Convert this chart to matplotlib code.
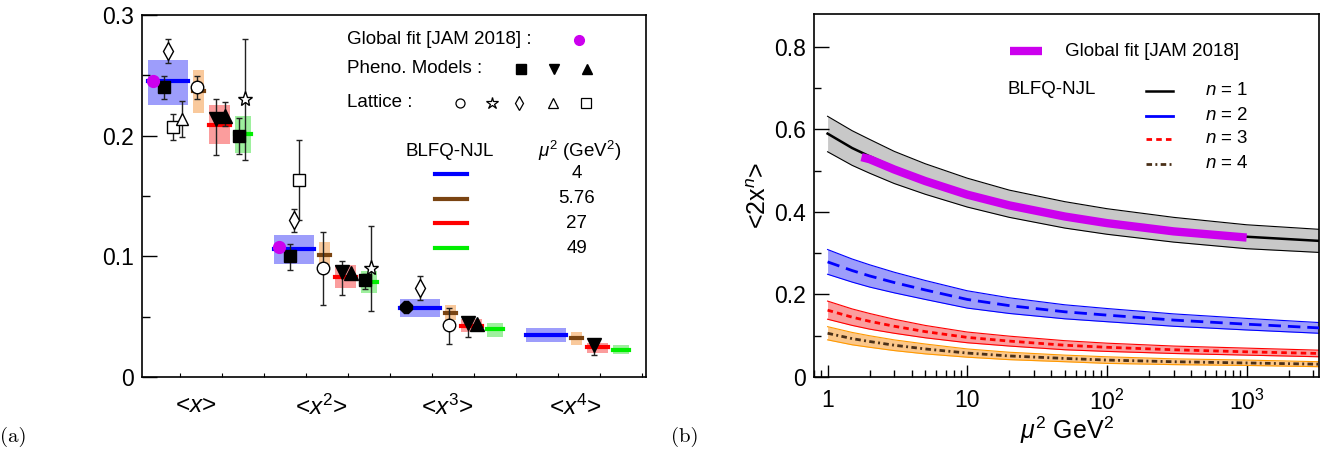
import matplotlib
matplotlib.use('Agg')
import matplotlib.pyplot as plt
import numpy as np

plt.rcParams['font.family'] = ['Liberation Sans', 'DejaVu Sans']
plt.rcParams['mathtext.fontset'] = 'custom'
plt.rcParams['mathtext.rm'] = 'Liberation Sans'
plt.rcParams['mathtext.it'] = 'Liberation Sans:italic'

# ---------------- (a) moments at fixed scales ----------------
moments = ['<$x$>', '<$x^{2}$>', '<$x^{3}$>', '<$x^{4}$>']
blfq_scales = ['4', '5.76', '27', '49']

# BLFQ-NJL central values and bands, rows = moments, cols = scales
blfq_mid = [[0.245, 0.237, 0.209, 0.201],
            [0.106, 0.101, 0.083, 0.079],
            [0.057, 0.053, 0.042, 0.040],
            [0.035, 0.032, 0.025, 0.0225]]
blfq_lo = [[0.225, 0.219, 0.193, 0.186],
           [0.094, 0.092, 0.074, 0.070],
           [0.050, 0.047, 0.037, 0.033],
           [0.029, 0.0265, 0.020, 0.019]]
blfq_hi = [[0.263, 0.254, 0.225, 0.216],
           [0.118, 0.112, 0.093, 0.088],
           [0.065, 0.060, 0.048, 0.045],
           [0.0405, 0.037, 0.028, 0.0265]]

# global fit (JAM 2018)
jam_val = [0.245, 0.108]

# phenomenological models: value, err down, err up (None = not shown)
pheno_sq1 = [(0.240, 0.0095, 0.0095), (0.100, 0.011, 0.010), None, None]
pheno_oct = [None, None, (0.058, 0.0, 0.0), None]
pheno_tdn = [(0.214, 0.030, 0.016), (0.087, 0.019, 0.009), (0.045, 0.012, 0.005), (0.0265, 0.0085, 0.0035)]
pheno_tup = [(0.216, 0.008, 0.012), (0.086, 0.0, 0.0), (0.044, 0.0, 0.0), None]
pheno_sq2 = [(0.200, 0.015, 0.015), (0.080, 0.007, 0.005), None, None]

# lattice results
latt_circ = [(0.240, 0.0095, 0.0095), (0.090, 0.030, 0.030), (0.043, 0.016, 0.014), None]
latt_star = [(0.230, 0.050, 0.050), (0.090, 0.035, 0.035), None, None]
latt_diam = [(0.270, 0.010, 0.010), (0.130, 0.010, 0.009), (0.074, 0.010, 0.010), None]
latt_tri = [(0.214, 0.015, 0.015), None, None, None]
latt_sq = [(0.207, 0.011, 0.011), (0.163, 0.033, 0.033), None, None]

# ---------------- (b) scale evolution ----------------
mu2 = [1, 1.5, 2, 3, 5, 10, 20, 50, 100, 300, 1000, 3300]
n1_mid = [0.590, 0.555, 0.535, 0.508, 0.480, 0.447, 0.420, 0.393, 0.377, 0.357, 0.340, 0.330]
n1_hi = [0.632, 0.597, 0.576, 0.547, 0.517, 0.482, 0.453, 0.425, 0.408, 0.387, 0.369, 0.358]
n1_lo = [0.546, 0.513, 0.494, 0.469, 0.443, 0.412, 0.387, 0.361, 0.346, 0.327, 0.311, 0.302]
n2_mid = [0.279, 0.258, 0.245, 0.229, 0.211, 0.188, 0.173, 0.158, 0.150, 0.138, 0.128, 0.119]
n2_hi = [0.309, 0.286, 0.272, 0.254, 0.234, 0.209, 0.192, 0.175, 0.166, 0.153, 0.142, 0.132]
n2_lo = [0.249, 0.230, 0.218, 0.204, 0.188, 0.167, 0.154, 0.141, 0.134, 0.123, 0.114, 0.106]
n3_mid = [0.162, 0.145, 0.135, 0.123, 0.110, 0.096, 0.087, 0.077, 0.072, 0.066, 0.061, 0.057]
n3_hi = [0.184, 0.165, 0.154, 0.140, 0.125, 0.109, 0.099, 0.088, 0.082, 0.075, 0.070, 0.065]
n3_lo = [0.140, 0.125, 0.116, 0.106, 0.095, 0.083, 0.075, 0.066, 0.062, 0.057, 0.053, 0.049]
n4_mid = [0.106, 0.093, 0.086, 0.077, 0.068, 0.058, 0.051, 0.045, 0.041, 0.037, 0.034, 0.031]
n4_hi = [0.122, 0.108, 0.100, 0.090, 0.080, 0.068, 0.060, 0.053, 0.049, 0.044, 0.041, 0.037]
n4_lo = [0.090, 0.078, 0.072, 0.064, 0.056, 0.048, 0.042, 0.037, 0.033, 0.030, 0.028, 0.025]

jam_mu2 = [1.75, 2, 3, 5, 10, 20, 50, 100, 300, 1000]
jam_2x = [0.533, 0.528, 0.503, 0.475, 0.442, 0.416, 0.389, 0.373, 0.353, 0.338]

fig = plt.figure(figsize=(13.23, 4.51), dpi=100)
axa = fig.add_axes([0.1073, 0.1641, 0.381, 0.8027])
axb = fig.add_axes([0.6153, 0.1641, 0.3817, 0.8049])

# box layout inside each moment group: (left, right)
box_span = [(0.048, 0.365), (0.405, 0.492), (0.532, 0.698), (0.738, 0.865)]
box_fill = ['#9d9dfb', '#f9c99c', '#fb9d9d', '#9ef09e']
box_line = ['#0000ff', '#7a4412', '#ff0000', '#00ee00']

for i in range(4):
    for j in range(4):
        x0, x1 = box_span[j]
        axa.fill_between([i + x0, i + x1], blfq_lo[i][j], blfq_hi[i][j],
                         color=box_fill[j], lw=0, zorder=1)
        axa.plot([i + x0, i + x1], [blfq_mid[i][j]] * 2, color=box_line[j], lw=3, zorder=2)


def draw_points(vals, offset, marker, filled, size):
    for i, v in enumerate(vals):
        if v is None:
            continue
        y, dlo, dhi = v
        if dlo > 0 or dhi > 0:
            axa.errorbar(i + offset, y, yerr=[[dlo], [dhi]], fmt='none', ecolor='#222222',
                         elinewidth=1, capsize=2.5, capthick=1, zorder=3)
        axa.plot(i + offset, y, marker=marker, ms=size, mec='black', mew=1,
                 mfc='black' if filled else 'white', ls='none', zorder=4)


draw_points(latt_diam, 0.21, 'd', False, 9)
draw_points(latt_sq, 0.245, 's', False, 8.5)
draw_points(latt_tri, 0.32, '^', False, 9)
draw_points(pheno_sq1, 0.175, 's', True, 8)
draw_points(pheno_oct, 0.095, '8', True, 9)
draw_points(latt_circ, 0.44, 'o', False, 9)
draw_points(pheno_tdn, 0.59, 'v', True, 9.5)
draw_points(pheno_tup, 0.66, '^', True, 9.5)
draw_points(pheno_sq2, 0.77, 's', True, 8)
draw_points(latt_star, 0.82, '*', False, 11)

for i, v in enumerate(jam_val):
    axa.plot(i + 0.085, v, 'o', color='#cc00ee', ms=8.5, zorder=5)

axa.set_xlim(0, 4)
axa.set_ylim(0, 0.3)
axa.set_yticks([0, 0.1, 0.2, 0.3])
axa.set_yticklabels(['0', '0.1', '0.2', '0.3'])
axa.set_yticks(np.arange(0.05, 0.3, 0.1), minor=True)
axa.set_xticks([0.43, 1.42, 2.42, 3.44])
axa.set_xticklabels(moments, fontsize=17.5)
axa.set_xticks(np.arange(0.30, 4.0, 1 / 3), minor=True)
axa.tick_params(axis='y', which='major', direction='in', length=11, width=1, labelsize=16.5, pad=6)
axa.tick_params(axis='y', which='minor', direction='in', length=5.5, width=1)
axa.tick_params(axis='x', which='major', length=0, pad=13)
axa.tick_params(axis='x', which='minor', direction='in', length=3, width=0.8)
for s in axa.spines.values():
    s.set_linewidth(1.2)

# legend of panel (a)
ta = axa.transAxes
fs = 13.5
axa.text(0.407, 0.931, 'Global fit [JAM 2018] :', transform=ta, fontsize=fs, va='center')
axa.plot(0.867, 0.931, 'o', color='#cc00ee', ms=7, transform=ta, clip_on=False)
axa.text(0.407, 0.851, 'Pheno. Models :', transform=ta, fontsize=fs, va='center')
for xm, mk in zip([0.752, 0.817, 0.883], ['s', 'v', '^']):
    axa.plot(xm, 0.851, mk, color='black', ms=7, transform=ta)
axa.text(0.407, 0.757, 'Lattice :', transform=ta, fontsize=fs, va='center')
for xm, mk, sz in zip([0.631, 0.694, 0.748, 0.815, 0.881], ['o', '*', 'd', '^', 's'],
                      [6.5, 9, 7, 7, 6.5]):
    axa.plot(xm, 0.757, mk, mfc='white', mec='black', mew=0.9, ms=sz, transform=ta)
axa.text(0.522, 0.624, 'BLFQ-NJL', transform=ta, fontsize=fs, va='center')
axa.text(0.786, 0.624, r'$\mu^{2}$ (GeV$^{2}$)', transform=ta, fontsize=fs, va='center')
for k, (yl, lab) in enumerate(zip([0.561, 0.492, 0.425, 0.356], blfq_scales)):
    axa.plot([0.581, 0.645], [yl, yl], color=box_line[k], lw=3, transform=ta)
    axa.text(0.863, yl, lab, transform=ta, fontsize=fs, va='center', ha='center')

# ---------------- panel (b) ----------------
axb.fill_between(mu2, n1_lo, n1_hi, color='#c8c8c8', lw=0, zorder=1)
axb.plot(mu2, n1_hi, color='black', lw=0.8, zorder=2)
axb.plot(mu2, n1_lo, color='black', lw=0.8, zorder=2)
axb.fill_between(mu2, n2_lo, n2_hi, color='#9d9dfb', lw=0, zorder=1)
axb.plot(mu2, n2_hi, color='#0000ff', lw=0.8, zorder=2)
axb.plot(mu2, n2_lo, color='#0000ff', lw=0.8, zorder=2)
axb.fill_between(mu2, n3_lo, n3_hi, color='#fb9d9d', lw=0, zorder=1)
axb.plot(mu2, n3_hi, color='#ff0000', lw=0.8, zorder=2)
axb.plot(mu2, n3_lo, color='#ff0000', lw=0.8, zorder=2)
axb.fill_between(mu2, n4_lo, n4_hi, color='#fbc78a', lw=0, zorder=1)
axb.plot(mu2, n4_hi, color='#ff9900', lw=0.8, zorder=2)
axb.plot(mu2, n4_lo, color='#ff9900', lw=0.8, zorder=2)

n1_style = dict(color='black', lw=1.8, ls='-')
n2_style = dict(color='#0000ff', lw=2, ls=(0, (4.5, 2.5)))
n3_style = dict(color='#ff0000', lw=2, ls=(0, (2, 1.5)))
n4_style = dict(color='#4a3018', lw=2, ls=(0, (2, 1.2, 0.7, 1.2)))
axb.plot(mu2, n1_mid, zorder=3, **n1_style)
axb.plot(mu2, n2_mid, zorder=3, **n2_style)
axb.plot(mu2, n3_mid, zorder=3, **n3_style)
axb.plot(mu2, n4_mid, zorder=3, **n4_style)
axb.plot(jam_mu2, jam_2x, color='#cc00ee', lw=6, solid_capstyle='butt', zorder=4)

axb.set_xscale('log')
axb.set_xlim(0.8, 3300)
axb.set_ylim(0, 0.88)
axb.set_xticks([1, 10, 100, 1000])
axb.set_xticklabels(['1', '10', '$10^{2}$', '$10^{3}$'])
axb.set_yticks([0, 0.2, 0.4, 0.6, 0.8])
axb.set_yticklabels(['0', '0.2', '0.4', '0.6', '0.8'])
axb.set_yticks([0.1, 0.3, 0.5, 0.7], minor=True)
axb.tick_params(axis='both', which='major', direction='in', length=11, width=1, labelsize=16.5)
axb.tick_params(axis='x', which='major', length=9, pad=9)
axb.tick_params(axis='both', which='minor', direction='in', length=5, width=1)
axb.tick_params(axis='y', which='both', pad=6)
axb.set_xlabel(r'$\mu^{2}$ GeV$^{2}$', fontsize=18, labelpad=0)
axb.set_ylabel(r'<2x$^{n}$>', fontsize=18, labelpad=2)
for s in axb.spines.values():
    s.set_linewidth(1.2)

tb = axb.transAxes
axb.plot([0.388, 0.451], [0.898, 0.898], color='#cc00ee', lw=6, solid_capstyle='butt', transform=tb)
axb.text(0.497, 0.898, 'Global fit [JAM 2018]', transform=tb, fontsize=fs, va='center')
axb.text(0.384, 0.793, 'BLFQ-NJL', transform=tb, fontsize=fs, va='center')
leg_styles = [n1_style, dict(n2_style, ls='-'), n3_style, n4_style]
for yl, st, lab in zip([0.788, 0.719, 0.656, 0.587], leg_styles,
                       ['$n$ = 1', '$n$ = 2', '$n$ = 3', '$n$ = 4']):
    axb.plot([0.657, 0.711], [yl, yl], transform=tb, **st)
    axb.text(0.774, yl, lab, transform=tb, fontsize=fs, va='center')

fig.text(0.0, 0.031, '(a)', fontsize=15, family='cmr10', va='center')
fig.text(0.507, 0.031, '(b)', fontsize=15, family='cmr10', va='center')

fig.savefig('out.png', dpi=100)
